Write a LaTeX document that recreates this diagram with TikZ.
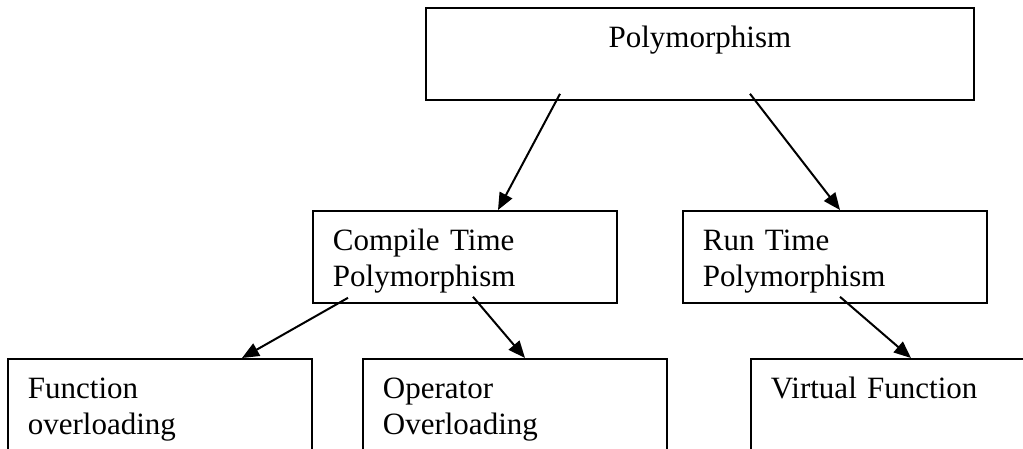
\documentclass[tikz,border=0pt]{standalone}
\usepackage{fontspec}
\setmainfont{Liberation Serif}
\usetikzlibrary{arrows.meta}
\begin{document}
\begin{tikzpicture}[x=1pt,y=-1pt]
      \useasboundingbox (0,0) rectangle (1023,448);
      \clip (0,0) rectangle (1023,448);
      \draw[line width=1.8pt,font=\fontsize{31}{36}\selectfont,
            nodes={draw,anchor=north west,align=left,inner xsep=20pt,inner ysep=0pt,
                   text width=264pt,text height=40pt,text depth=52pt}]
        (425,7) node[align=center,text width=508pt] (0){Polymorphism}
        (312,210) node (1){Compile Time\\Polymorphism}
        (682,210) node (2){Run Time\\Polymorphism}
        (7,358) node (3){Function\\overloading}
        (362,358) node (4){Operator\\Overloading}
        (750,358) node (5){Virtual Function};
      \begin{scope}[line width=2pt,-{Triangle[length=17pt,width=14pt]}]
        \draw ([xshift=135pt,yshift=7pt]0.south west) to ([xshift=186pt]1.north west);
        \draw ([xshift=325pt,yshift=7pt]0.south west) to ([xshift=158pt]2.north west);
        \draw ([xshift=36pt,yshift=6pt]1.south west) to ([xshift=235pt]3.north west);
        \draw ([xshift=161pt,yshift=7pt]1.south west) to ([xshift=163pt]4.north west);
        \draw ([xshift=158pt,yshift=7pt]2.south west) to ([xshift=161pt]5.north west);
      \end{scope}
    \end{tikzpicture}
\end{document}
